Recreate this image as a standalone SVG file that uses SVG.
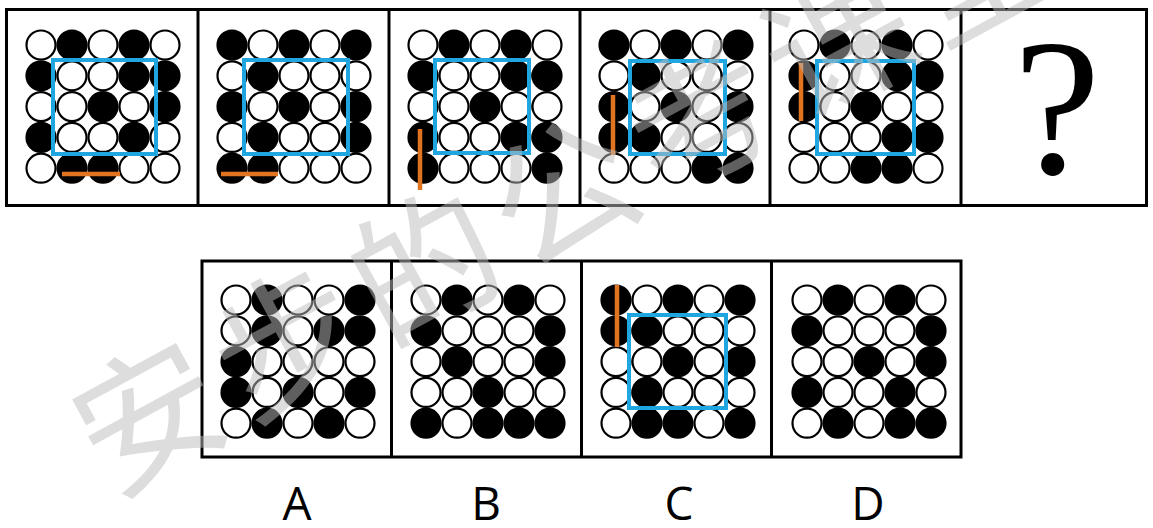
<svg xmlns="http://www.w3.org/2000/svg" xmlns:xlink="http://www.w3.org/1999/xlink" width="1153" height="528" viewBox="0 0 1153 528">
<style>
.w{fill:#fff;stroke:#000;stroke-width:2.2}
.b{fill:#000;stroke:#000;stroke-width:2.2}
.frame{fill:#fff;stroke:#000;stroke-width:3}
.div{stroke:#000;stroke-width:3}
.blue{fill:none;stroke:#1fa6e0;stroke-width:4}
.org{stroke:#e07420;stroke-width:4.5}
.lbl{font-family:"Open Sans","DejaVu Sans",sans-serif;font-size:46px;fill:#000;text-anchor:middle}
.wm{font-family:"Noto Sans CJK SC",sans-serif;font-size:145px;fill:#bdbdbd;opacity:0.5}
</style>
<defs>
<circle id="W" r="14.5" class="w"/>
<circle id="B" r="14.5" class="b"/>
</defs>
<rect width="1153" height="528" fill="#fff"/>
<g id="frames">
<rect class="frame" x="6.5" y="9.5" width="1140" height="196"/>
<line class="div" x1="198" y1="9" x2="198" y2="206"/>
<line class="div" x1="389" y1="9" x2="389" y2="206"/>
<line class="div" x1="580" y1="9" x2="580" y2="206"/>
<line class="div" x1="770" y1="9" x2="770" y2="206"/>
<line class="div" x1="961" y1="9" x2="961" y2="206"/>
<rect class="frame" x="202" y="261" width="759" height="196"/>
<line class="div" x1="391.5" y1="261" x2="391.5" y2="457"/>
<line class="div" x1="581.5" y1="261" x2="581.5" y2="457"/>
<line class="div" x1="771.5" y1="261" x2="771.5" y2="457"/>
</g>
<g id="panel1" transform="translate(41,45)">
<use href="#W" x="0" y="0"/><use href="#B" x="31" y="0"/><use href="#W" x="62" y="0"/><use href="#B" x="93" y="0"/><use href="#W" x="124" y="0"/>
<use href="#B" x="0" y="30.8"/><use href="#W" x="31" y="30.8"/><use href="#W" x="62" y="30.8"/><use href="#B" x="93" y="30.8"/><use href="#B" x="124" y="30.8"/>
<use href="#W" x="0" y="61.6"/><use href="#W" x="31" y="61.6"/><use href="#B" x="62" y="61.6"/><use href="#W" x="93" y="61.6"/><use href="#B" x="124" y="61.6"/>
<use href="#B" x="0" y="92.4"/><use href="#W" x="31" y="92.4"/><use href="#W" x="62" y="92.4"/><use href="#B" x="93" y="92.4"/><use href="#W" x="124" y="92.4"/>
<use href="#W" x="0" y="123.2"/><use href="#B" x="31" y="123.2"/><use href="#B" x="62" y="123.2"/><use href="#W" x="93" y="123.2"/><use href="#W" x="124" y="123.2"/>
</g>
<g id="panel2" transform="translate(232,45)">
<use href="#B" x="0" y="0"/><use href="#W" x="31" y="0"/><use href="#B" x="62" y="0"/><use href="#W" x="93" y="0"/><use href="#B" x="124" y="0"/>
<use href="#W" x="0" y="30.8"/><use href="#B" x="31" y="30.8"/><use href="#W" x="62" y="30.8"/><use href="#W" x="93" y="30.8"/><use href="#W" x="124" y="30.8"/>
<use href="#B" x="0" y="61.6"/><use href="#W" x="31" y="61.6"/><use href="#B" x="62" y="61.6"/><use href="#W" x="93" y="61.6"/><use href="#B" x="124" y="61.6"/>
<use href="#W" x="0" y="92.4"/><use href="#B" x="31" y="92.4"/><use href="#W" x="62" y="92.4"/><use href="#W" x="93" y="92.4"/><use href="#B" x="124" y="92.4"/>
<use href="#B" x="0" y="123.2"/><use href="#B" x="31" y="123.2"/><use href="#W" x="62" y="123.2"/><use href="#W" x="93" y="123.2"/><use href="#W" x="124" y="123.2"/>
</g>
<g id="panel3" transform="translate(423,45)">
<use href="#W" x="0" y="0"/><use href="#B" x="31" y="0"/><use href="#W" x="62" y="0"/><use href="#B" x="93" y="0"/><use href="#W" x="124" y="0"/>
<use href="#B" x="0" y="30.8"/><use href="#W" x="31" y="30.8"/><use href="#W" x="62" y="30.8"/><use href="#B" x="93" y="30.8"/><use href="#B" x="124" y="30.8"/>
<use href="#W" x="0" y="61.6"/><use href="#W" x="31" y="61.6"/><use href="#B" x="62" y="61.6"/><use href="#W" x="93" y="61.6"/><use href="#W" x="124" y="61.6"/>
<use href="#B" x="0" y="92.4"/><use href="#W" x="31" y="92.4"/><use href="#W" x="62" y="92.4"/><use href="#B" x="93" y="92.4"/><use href="#B" x="124" y="92.4"/>
<use href="#B" x="0" y="123.2"/><use href="#W" x="31" y="123.2"/><use href="#W" x="62" y="123.2"/><use href="#W" x="93" y="123.2"/><use href="#B" x="124" y="123.2"/>
</g>
<g id="panel4" transform="translate(614,45)">
<use href="#B" x="0" y="0"/><use href="#W" x="31" y="0"/><use href="#B" x="62" y="0"/><use href="#W" x="93" y="0"/><use href="#B" x="124" y="0"/>
<use href="#W" x="0" y="30.8"/><use href="#B" x="31" y="30.8"/><use href="#W" x="62" y="30.8"/><use href="#W" x="93" y="30.8"/><use href="#W" x="124" y="30.8"/>
<use href="#B" x="0" y="61.6"/><use href="#W" x="31" y="61.6"/><use href="#B" x="62" y="61.6"/><use href="#W" x="93" y="61.6"/><use href="#B" x="124" y="61.6"/>
<use href="#B" x="0" y="92.4"/><use href="#B" x="31" y="92.4"/><use href="#W" x="62" y="92.4"/><use href="#W" x="93" y="92.4"/><use href="#W" x="124" y="92.4"/>
<use href="#W" x="0" y="123.2"/><use href="#W" x="31" y="123.2"/><use href="#W" x="62" y="123.2"/><use href="#B" x="93" y="123.2"/><use href="#B" x="124" y="123.2"/>
</g>
<g id="panel5" transform="translate(804,45)">
<use href="#W" x="0" y="0"/><use href="#B" x="31" y="0"/><use href="#W" x="62" y="0"/><use href="#B" x="93" y="0"/><use href="#W" x="124" y="0"/>
<use href="#B" x="0" y="30.8"/><use href="#W" x="31" y="30.8"/><use href="#W" x="62" y="30.8"/><use href="#B" x="93" y="30.8"/><use href="#B" x="124" y="30.8"/>
<use href="#B" x="0" y="61.6"/><use href="#W" x="31" y="61.6"/><use href="#B" x="62" y="61.6"/><use href="#W" x="93" y="61.6"/><use href="#W" x="124" y="61.6"/>
<use href="#W" x="0" y="92.4"/><use href="#W" x="31" y="92.4"/><use href="#W" x="62" y="92.4"/><use href="#B" x="93" y="92.4"/><use href="#B" x="124" y="92.4"/>
<use href="#W" x="0" y="123.2"/><use href="#W" x="31" y="123.2"/><use href="#B" x="62" y="123.2"/><use href="#B" x="93" y="123.2"/><use href="#W" x="124" y="123.2"/>
</g>
<g id="panel6">
<text x="1057" y="173" font-family="Liberation Serif, serif" font-size="196" text-anchor="middle" fill="#000">?</text>
</g>
<g id="optionA" transform="translate(236,300)">
<use href="#W" x="0" y="0"/><use href="#B" x="31" y="0"/><use href="#W" x="62" y="0"/><use href="#W" x="93" y="0"/><use href="#B" x="124" y="0"/>
<use href="#W" x="0" y="30.8"/><use href="#B" x="31" y="30.8"/><use href="#W" x="62" y="30.8"/><use href="#B" x="93" y="30.8"/><use href="#B" x="124" y="30.8"/>
<use href="#B" x="0" y="61.6"/><use href="#W" x="31" y="61.6"/><use href="#W" x="62" y="61.6"/><use href="#W" x="93" y="61.6"/><use href="#W" x="124" y="61.6"/>
<use href="#B" x="0" y="92.4"/><use href="#W" x="31" y="92.4"/><use href="#B" x="62" y="92.4"/><use href="#W" x="93" y="92.4"/><use href="#B" x="124" y="92.4"/>
<use href="#W" x="0" y="123.2"/><use href="#B" x="31" y="123.2"/><use href="#W" x="62" y="123.2"/><use href="#B" x="93" y="123.2"/><use href="#W" x="124" y="123.2"/>
</g>
<g id="optionB" transform="translate(426,300)">
<use href="#W" x="0" y="0"/><use href="#B" x="31" y="0"/><use href="#W" x="62" y="0"/><use href="#B" x="93" y="0"/><use href="#W" x="124" y="0"/>
<use href="#B" x="0" y="30.8"/><use href="#W" x="31" y="30.8"/><use href="#W" x="62" y="30.8"/><use href="#W" x="93" y="30.8"/><use href="#B" x="124" y="30.8"/>
<use href="#W" x="0" y="61.6"/><use href="#B" x="31" y="61.6"/><use href="#W" x="62" y="61.6"/><use href="#W" x="93" y="61.6"/><use href="#B" x="124" y="61.6"/>
<use href="#W" x="0" y="92.4"/><use href="#W" x="31" y="92.4"/><use href="#B" x="62" y="92.4"/><use href="#W" x="93" y="92.4"/><use href="#W" x="124" y="92.4"/>
<use href="#B" x="0" y="123.2"/><use href="#W" x="31" y="123.2"/><use href="#B" x="62" y="123.2"/><use href="#B" x="93" y="123.2"/><use href="#B" x="124" y="123.2"/>
</g>
<g id="optionC" transform="translate(616,300)">
<use href="#B" x="0" y="0"/><use href="#W" x="31" y="0"/><use href="#B" x="62" y="0"/><use href="#W" x="93" y="0"/><use href="#B" x="124" y="0"/>
<use href="#B" x="0" y="30.8"/><use href="#B" x="31" y="30.8"/><use href="#W" x="62" y="30.8"/><use href="#W" x="93" y="30.8"/><use href="#W" x="124" y="30.8"/>
<use href="#W" x="0" y="61.6"/><use href="#W" x="31" y="61.6"/><use href="#B" x="62" y="61.6"/><use href="#W" x="93" y="61.6"/><use href="#B" x="124" y="61.6"/>
<use href="#W" x="0" y="92.4"/><use href="#B" x="31" y="92.4"/><use href="#W" x="62" y="92.4"/><use href="#W" x="93" y="92.4"/><use href="#W" x="124" y="92.4"/>
<use href="#W" x="0" y="123.2"/><use href="#B" x="31" y="123.2"/><use href="#B" x="62" y="123.2"/><use href="#W" x="93" y="123.2"/><use href="#B" x="124" y="123.2"/>
</g>
<g id="optionD" transform="translate(807,300)">
<use href="#W" x="0" y="0"/><use href="#B" x="31" y="0"/><use href="#W" x="62" y="0"/><use href="#B" x="93" y="0"/><use href="#W" x="124" y="0"/>
<use href="#B" x="0" y="30.8"/><use href="#W" x="31" y="30.8"/><use href="#W" x="62" y="30.8"/><use href="#W" x="93" y="30.8"/><use href="#B" x="124" y="30.8"/>
<use href="#W" x="0" y="61.6"/><use href="#W" x="31" y="61.6"/><use href="#B" x="62" y="61.6"/><use href="#W" x="93" y="61.6"/><use href="#B" x="124" y="61.6"/>
<use href="#B" x="0" y="92.4"/><use href="#W" x="31" y="92.4"/><use href="#W" x="62" y="92.4"/><use href="#B" x="93" y="92.4"/><use href="#W" x="124" y="92.4"/>
<use href="#W" x="0" y="123.2"/><use href="#B" x="31" y="123.2"/><use href="#W" x="62" y="123.2"/><use href="#B" x="93" y="123.2"/><use href="#B" x="124" y="123.2"/>
</g>
<g id="marks">
<rect class="blue" x="53" y="60" width="103" height="94"/>
<rect class="blue" x="244" y="60" width="104" height="94"/>
<rect class="blue" x="435" y="60" width="94" height="93"/>
<rect class="blue" x="630" y="61" width="95" height="93"/>
<rect class="blue" x="817" y="61" width="97" height="93"/>
<rect class="blue" x="629" y="315" width="97" height="93"/>
<line class="org" x1="62" y1="174" x2="120" y2="174"/>
<line class="org" x1="221" y1="174" x2="278" y2="174"/>
<line class="org" x1="420" y1="129" x2="420" y2="190"/>
<line class="org" x1="613" y1="95" x2="613" y2="155"/>
<line class="org" x1="801" y1="63" x2="801" y2="121"/>
<line class="org" x1="617" y1="285" x2="617" y2="347"/>
</g>
<g id="labels">
<text class="lbl" x="297" y="520">A</text>
<text class="lbl" x="486" y="520">B</text>
<text class="lbl" x="679" y="520">C</text>
<text class="lbl" x="868" y="520">D</text>
</g>
<g id="watermark" transform="translate(150,420) rotate(-28.5)">
<text class="wm" x="-72" y="50" letter-spacing="12">安步的公考课堂</text>
</g>
</svg>
